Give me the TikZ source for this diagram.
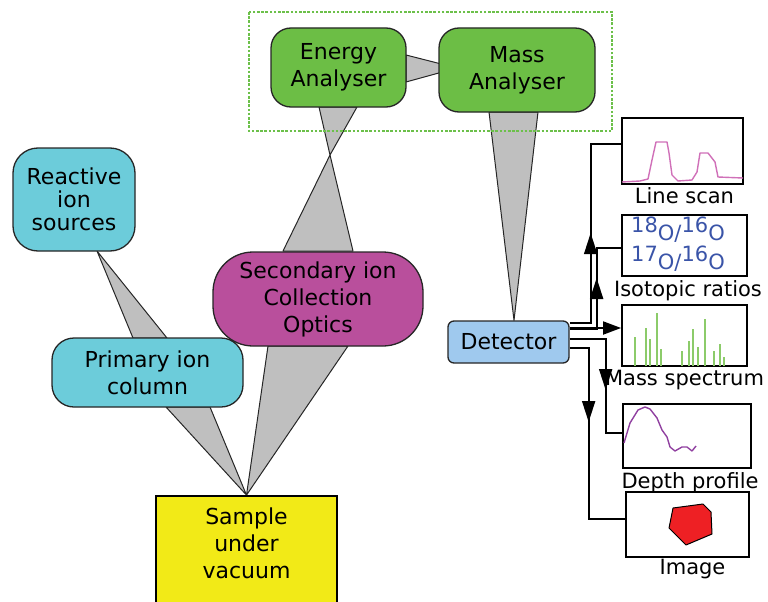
\documentclass[tikz,border=0pt]{standalone}
\usepackage{fontspec}
\setmainfont{DejaVu Sans}
\usetikzlibrary{arrows.meta,backgrounds,decorations.markings,calc,positioning}

\definecolor{ioncyan}{HTML}{6CCCDA}
\definecolor{anagreen}{HTML}{6CBE45}
\definecolor{optmag}{HTML}{B94F9C}
\definecolor{smpyellow}{HTML}{F2EA17}
\definecolor{detblue}{HTML}{9FC9EE}
\definecolor{beamgray}{HTML}{BFBFBF}
\definecolor{dotgreen}{HTML}{6CC04A}
\definecolor{scanpink}{HTML}{D070B8}
\definecolor{isoblue}{HTML}{3A54A8}
\definecolor{specgreen}{HTML}{8CCB6A}
\definecolor{depthpurple}{HTML}{9040A0}
\definecolor{imgred}{HTML}{EE2024}

\newcommand{\isotop}[1]{\raisebox{8pt}{#1}}

\tikzset{
  unit/.style={draw=black!85, line width=1.3pt, align=center, inner sep=0pt,
    font=\fontsize{22}{27}\selectfont},
  beam/.style={fill=beamgray, draw=black!85, line width=1pt, line join=round},
  panel/.style={draw=black, line width=1.8pt, inner sep=0pt},
  conn/.style={draw=black, line width=1.8pt},
  midarr/.style={postaction={decorate},
    decoration={markings, mark=at position #1 with {\arrow{Triangle[length=21pt,width=13pt]}}}},
  lbl/.style={font=\fontsize{21}{25}\selectfont, inner sep=0pt}
}

\begin{document}
\begin{tikzpicture}[x=1pt,y=-1pt]
\useasboundingbox (0,0) rectangle (768,602);

% the instrument
\node[unit, fill=anagreen, rounded corners=20pt, minimum width=135pt, minimum height=79pt] (ea) at (338.5,67.5) {Energy\\Analyser};
\node[unit, fill=anagreen, rounded corners=20pt, minimum width=156pt, minimum height=84pt] (ma) at (517,70) {Mass\\Analyser};
\node[unit, fill=ioncyan, rounded corners=25pt, minimum width=122pt, minimum height=103pt] (rsrc) at (74,199.5) {Reactive\\[-4pt]ion\\[-4pt]sources};
\node[unit, fill=ioncyan, rounded corners=22pt, minimum width=191pt, minimum height=69pt] (pcol) at (147.5,372.5) {Primary ion\\column};
\node[unit, fill=optmag, rounded corners=40pt, minimum width=210pt, minimum height=94pt] (sico) at (318,299) {Secondary ion\\Collection\\Optics};
\node[unit, fill=smpyellow, draw=black, line width=1.8pt, minimum width=181pt, minimum height=120pt] (smp) at (246.5,556) {};
\node[font=\fontsize{22}{27}\selectfont, align=center, anchor=north, inner sep=0pt] (smptxt) at (246.5,508) {Sample\\under\\vacuum};
\node[unit, fill=detblue, rounded corners=6pt, minimum width=121pt, minimum height=42pt] (det) at (508.5,342) {Detector};

% beams
\begin{scope}[on background layer]
  \filldraw[beam] (406,55) -- (457,68) -- (406,82) -- cycle;
  \filldraw[beam] (319,107) -- (357,107) -- (330,155) -- cycle;
  \filldraw[beam] (330,155) -- (353,251) -- (283,251) -- cycle;
  \filldraw[beam] (268,346) -- (348,346) -- (smp.north) -- cycle;
  \filldraw[beam] (97,251) -- (167,338) -- (133,338) -- cycle;
  \filldraw[beam] (166,407) -- (210,407) -- (smp.north) -- cycle;
  \filldraw[beam] (489,112) -- (538,112) -- ([xshift=5.5pt]det.north) -- cycle;
  \draw[dotgreen, line width=2.6pt, dash pattern=on 2.6pt off 1.6pt] (249,12) rectangle (612,131);
\end{scope}

% output panels
\node[panel, minimum width=121pt, minimum height=66pt] (lscan) at (682.5,151) {};
\node[panel, minimum width=125pt, minimum height=61pt] (iso) at (684.5,245.5) {};
\node[panel, minimum width=125pt, minimum height=61pt] (mspec) at (684.5,335.5) {};
\node[panel, minimum width=128pt, minimum height=64pt] (dprof) at (687,436) {};
\node[panel, minimum width=123pt, minimum height=65pt] (img) at (687.5,524.5) {};

\node[lbl, below=2pt of lscan, xshift=2pt] (lscanlbl) {Line scan};
\node[lbl, below=3pt of iso, xshift=3.5pt] (isolbl) {Isotopic ratios};
\node[lbl, below=3pt of mspec] (mspeclbl) {Mass spectrum};
\node[lbl, below=3pt of dprof, xshift=3pt] (dproflbl) {Depth profile};
\node[lbl, below=1pt of img, xshift=5pt] (imglbl) {Image};

% panel contents
\draw[scanpink, line width=1.4pt, line join=round] (622,182) -- (640,181) -- (648,179) -- (652,160) -- (656,142) -- (667,142) -- (669,153) -- (672,175) -- (678,181) -- (692,180) -- (697,172) -- (700,153) -- (708,153) -- (715,162) -- (718,177) -- (743,178);
\node[font=\fontsize{21}{29}\selectfont, text=isoblue, align=left, anchor=north west, inner sep=0pt] (isotxt) at (631,217) {\isotop{18}O/\isotop{16}O\\\isotop{17}O/\isotop{16}O};
\foreach \x/\t in {635/337, 646/328, 650/339, 657/313, 661/349, 682/351, 689/341, 693/329, 698/347, 705/319, 714/351, 720/344, 724/357}
  \draw[specgreen, line width=1.6pt] (\x,366) -- (\x,\t);
\draw[depthpurple, line width=1.4pt, line join=round] (624,443) -- (630,423) -- (638,410) -- (645,407) -- (650,409) -- (657,418) -- (662,430) -- (667,437) -- (670,447) -- (675,451) -- (682,447) -- (687,447) -- (692,451) -- (696,446);
\filldraw[fill=imgred, draw=black, line width=1pt, line join=round] (673,508) -- (703,504) -- (711,512) -- (712,534) -- (686,545) -- (669,528) -- cycle;

% detector outputs
\draw[conn, midarr=111pt] ($(det.east)+(0,-19)$) -- ++(21,0) |- ([yshift=7pt]lscan.west);
\draw[conn, midarr=78pt] ($(det.east)+(0,-13)$) -- ++(27,0) |- ([yshift=-2.5pt]iso.west);
\draw[conn, -{Triangle[length=18pt,width=13pt]}] ($(det.east)+(0,-14)$) coordinate (ms0) -- (ms0 -| mspec.west);
\draw[conn, midarr=87pt] ($(det.east)+(0,-3)$) -- ++(36,0) |- ([yshift=3pt]dprof.west);
\draw[conn, midarr=93pt] ($(det.east)+(0,6)$) -- ++(19,0) |- ([yshift=5.5pt]img.west);
\end{tikzpicture}
\end{document}
